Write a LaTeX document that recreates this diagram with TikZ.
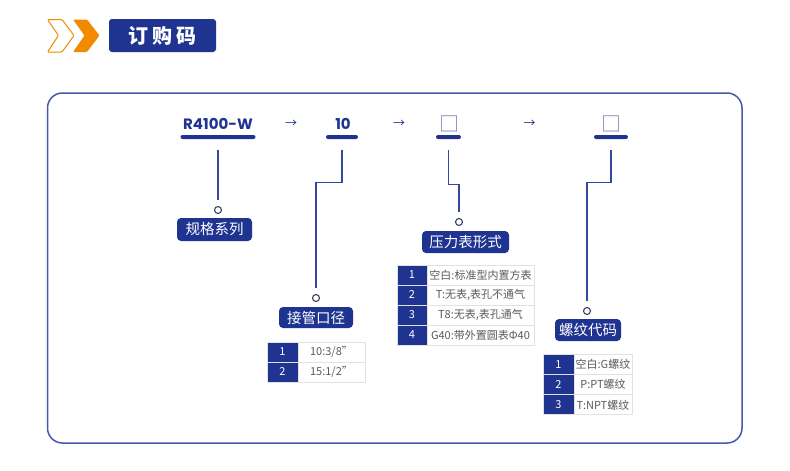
\documentclass[tikz,border=0pt]{standalone}
\usepackage{fontspec}
\setmainfont{Noto Sans CJK SC}
\newfontfamily\popfont{Poppins}
\usetikzlibrary{calc}
\definecolor{navy}{HTML}{1F3391}
\definecolor{lnk}{HTML}{3346A0}
\definecolor{framec}{HTML}{4659AD}
\definecolor{orng}{HTML}{F28A00}
\definecolor{gridc}{HTML}{E2E2E2}
\definecolor{txtc}{HTML}{5A5A5A}
\definecolor{boxc}{HTML}{6E72B5}
\definecolor{dotc}{HTML}{3A4060}
\begin{document}
\begin{tikzpicture}[x=1pt,y=-1pt,
  lbl/.style={fill=navy,text=white,rounded corners=4pt,inner sep=0pt,minimum height=22pt,font=\fontsize{14.5}{14.5}\selectfont},
  codetxt/.style={text=navy,inner sep=0pt,font=\popfont\bfseries\fontsize{15}{15}\selectfont},
  arrtxt/.style={text=navy,inner sep=0pt,font=\fontsize{12}{12}\selectfont},
  boxtxt/.style={text=boxc,inner sep=0pt,font=\fontsize{20}{20}\selectfont},
  bar/.style={fill=navy,rounded corners=2pt,inner sep=0pt,minimum height=4pt},
  conn/.style={draw=lnk,line width=1.1pt},
  dot/.style={circle,draw=dotc,fill=white,line width=1.1pt,minimum size=7pt,inner sep=0pt},
  numc/.style={fill=navy,draw=gridc,line width=0.8pt,text=white,inner sep=0pt,minimum height=20pt,font=\fontsize{11}{11}\selectfont},
  valc/.style={fill=white,draw=gridc,line width=0.8pt,text=txtc,inner sep=0pt,minimum height=20pt,font=\fontsize{11}{11}\selectfont}
]
\useasboundingbox[fill=white] (0,0) rectangle (790,471);
% header
\draw[orng,line width=1pt,rounded corners=1.2pt] (47.5,19.5) -- (62,19.5) -- (74,35.5) -- (62,52) -- (47.5,52) -- (58.5,35.5) -- cycle;
\fill[orng,rounded corners=1.2pt] (73,19.5) -- (87,19.5) -- (99.5,35.5) -- (87,52) -- (73,52) -- (84.5,35.5) -- cycle;
\node[fill=navy,rounded corners=3pt,minimum width=107pt,minimum height=33pt,inner sep=0pt,text=white,font=\bfseries\fontsize{20}{20}\selectfont] (title) at (162.5,35.5) {订\hspace{4pt}购\hspace{4pt}码};
% frame
\draw[framec,line width=1.5pt,rounded corners=15pt] (47.5,93) rectangle (742,443);
% codes
\node[codetxt] (code1) at (218,124) {R4100-W};
\node[bar,minimum width=75pt] (bar1) at (218,137) {};
\node[arrtxt] (a1) at (291,124) {→};
\node[codetxt] (code2) at (343,124) {10};
\node[bar,minimum width=32pt] (bar2) at (342,137) {};
\node[arrtxt] (a2) at (399,124) {→};
\node[boxtxt] (code3) at (449,124) {□};
\node[bar,minimum width=25pt] (bar3) at (448.5,137) {};
\node[arrtxt] (a3) at (529.5,124) {→};
\node[boxtxt] (code4) at (611,123.5) {□};
\node[bar,minimum width=34pt] (bar4) at (611,137) {};
% dots
\node[dot] (o1) at (218,210) {};
\node[dot] (o2) at (316,298) {};
\node[dot] (o3) at (459,222) {};
\node[dot] (o4) at (587,311) {};
% connectors
\draw[conn] ([yshift=-11pt]bar1.south) -- ([yshift=6pt]o1.north);
\draw[conn] ([yshift=-11pt]bar2.south) -- ++(0,32) -| ([yshift=6pt]o2.north);
\draw[conn] ([yshift=-11pt]bar3.south) -- ++(0,34) -| ([yshift=6pt]o3.north);
\draw[conn] ([yshift=-11pt]bar4.south) -- ++(0,32) -| ([yshift=6pt]o4.north);
% labels
\node[lbl,minimum width=75pt,minimum height=23pt] (l1) at (214.5,229.5) {规格系列};
\node[lbl,minimum width=74pt,minimum height=21pt] (l2) at (316,317.5) {接管口径};
\node[lbl,minimum width=87pt] (l3) at (465.5,242) {压力表形式};
\node[lbl,minimum width=66pt] (l4) at (588,330) {螺纹代码};
% table 1
\node[numc,minimum width=31pt] (t1n1) at (282.5,352) {1};
\node[valc,minimum width=67pt] (t1v1) at (331.5,352) {10:3/8"};
\node[numc,minimum width=31pt] (t1n2) at (282.5,372) {2};
\node[valc,minimum width=67pt] (t1v2) at (331.5,372) {15:1/2"};
% table 2
\node[numc,minimum width=30pt] (t2n1) at (412,275) {1};
\node[valc,minimum width=107pt] (t2v1) at (480.5,275) {空白:标准型内置方表};
\node[numc,minimum width=30pt] (t2n2) at (412,295) {2};
\node[valc,minimum width=107pt] (t2v2) at (480.5,295) {T:无表,表孔不通气};
\node[numc,minimum width=30pt] (t2n3) at (412,315) {3};
\node[valc,minimum width=107pt] (t2v3) at (480.5,315) {T8:无表,表孔通气};
\node[numc,minimum width=30pt] (t2n4) at (412,335) {4};
\node[valc,minimum width=107pt] (t2v4) at (480.5,335) {G40:带外置圆表Φ40};
% table 3
\node[numc,minimum width=31pt] (t3n1) at (558.5,364.2) {1};
\node[valc,minimum width=58pt] (t3v1) at (603,364.2) {空白:G螺纹};
\node[numc,minimum width=31pt] (t3n2) at (558.5,384.5) {2};
\node[valc,minimum width=58pt] (t3v2) at (603,384.5) {P:PT螺纹};
\node[numc,minimum width=31pt] (t3n3) at (558.5,404.8) {3};
\node[valc,minimum width=58pt] (t3v3) at (603,404.8) {T:NPT螺纹};
\end{tikzpicture}
\end{document}
